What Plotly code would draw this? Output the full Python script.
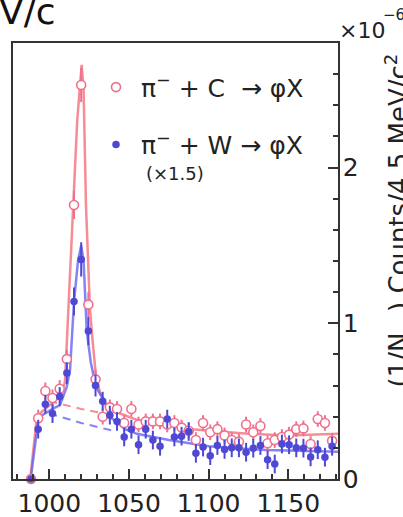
import plotly.graph_objects as go

# ---------------- data (y in units of 1e-6) ----------------
mass = [988.5, 993.0, 997.5, 1002.0, 1006.5, 1011.0, 1015.5, 1020.0, 1024.5, 1029.0,
        1033.5, 1038.0, 1042.5, 1047.0, 1051.5, 1056.0, 1060.5, 1065.0, 1069.5, 1074.0,
        1078.5, 1083.0, 1087.5, 1092.0, 1096.5, 1101.0, 1105.5, 1110.0, 1114.5, 1119.0,
        1123.5, 1128.0, 1132.5, 1137.0, 1141.5, 1146.0, 1150.5, 1155.0, 1159.5, 1164.0,
        1168.5, 1173.0, 1177.5]

carbon = [0.0, 0.39, 0.565, 0.52, 0.58, 0.77, 1.76, 2.53, 1.12, 0.64,
          0.40, 0.46, 0.45, 0.36, 0.45, 0.35, 0.37, 0.37, 0.37, 0.35,
          0.36, 0.33, 0.31, 0.25, 0.36, 0.30, 0.32, 0.28, 0.25, 0.24,
          0.35, 0.30, 0.34, 0.23, 0.25, 0.27, 0.285, 0.32, 0.325, 0.225,
          0.385, 0.36, 0.245]
carbon_err = [0.0, 0.055, 0.055, 0.055, 0.055, 0.06, 0.09, 0.11, 0.08, 0.06,
              0.05, 0.05, 0.05, 0.05, 0.05, 0.05, 0.05, 0.05, 0.05, 0.05,
              0.05, 0.05, 0.05, 0.05, 0.05, 0.05, 0.05, 0.05, 0.05, 0.05,
              0.05, 0.05, 0.05, 0.05, 0.05, 0.05, 0.05, 0.05, 0.05, 0.05,
              0.05, 0.05, 0.05]

tungsten = [0.0, 0.32, 0.48, 0.42, 0.53, 0.68, 1.14, 1.41, 0.95, 0.60,
            0.50, 0.41, 0.37, 0.27, 0.32, 0.22, 0.32, 0.25, 0.21, 0.385,
            0.27, 0.275, 0.305, 0.165, 0.205, 0.15, 0.215, 0.19, 0.20, 0.20,
            0.172, 0.198, 0.215, 0.124, 0.096, 0.225, 0.22, 0.20, 0.198, 0.142,
            0.188, 0.14, 0.21]
tungsten_err = [0.02, 0.06, 0.06, 0.06, 0.06, 0.07, 0.09, 0.11, 0.09, 0.07,
                0.06, 0.06, 0.06, 0.06, 0.06, 0.06, 0.06, 0.06, 0.06, 0.06,
                0.06, 0.06, 0.06, 0.06, 0.06, 0.06, 0.06, 0.06, 0.06, 0.06,
                0.06, 0.06, 0.06, 0.06, 0.06, 0.06, 0.06, 0.06, 0.06, 0.06,
                0.06, 0.06, 0.06]

# fit curves
fitC_x = [988.0, 990.0, 992.1, 995.0, 998.4, 1002.0, 1006.7, 1009.8, 1012.0, 1014.7,
          1017.5, 1020.3, 1021.5, 1023.0, 1025.5, 1027.5, 1029.3, 1032.0, 1036.0, 1042.0,
          1047.5, 1055.0, 1065.0, 1075.0, 1090.0, 1100.0, 1125.0, 1150.0, 1181.2]
fitC_y = [0.0, 0.20, 0.39, 0.43, 0.46, 0.49, 0.53, 0.62, 1.09, 1.76,
          2.30, 2.66, 2.50, 1.76, 1.09, 0.85, 0.66, 0.55, 0.475, 0.43,
          0.41, 0.38, 0.36, 0.35, 0.32, 0.31, 0.29, 0.28, 0.29]

fitW_x = [988.3, 990.5, 993.1, 995.5, 998.4, 1002.0, 1006.7, 1010.9, 1013.0, 1015.5,
          1018.0, 1020.0, 1021.5, 1023.5, 1026.0, 1029.3, 1034.5, 1038.0, 1047.5, 1055.0,
          1075.0, 1100.0, 1136.0, 1181.2]
fitW_y = [0.0, 0.18, 0.38, 0.41, 0.43, 0.45, 0.475, 0.59, 0.70, 1.14,
          1.40, 1.50, 1.40, 0.95, 0.75, 0.59, 0.50, 0.40, 0.32, 0.29,
          0.25, 0.21, 0.186, 0.175]

bkgC_x = [1000.0, 1020.0, 1040.0]
bkgC_y = [0.50, 0.45, 0.41]
bkgW_x = [1000.0, 1020.0, 1040.0]
bkgW_y = [0.42, 0.36, 0.31]

x_ticks = [1000, 1050, 1100, 1150]
y_ticks = [0, 1, 2]

# ---------------- styling ----------------
FONT = "DejaVu Sans, Verdana, sans-serif"
PINK_PT = "#f0708c"
PINK_LN = "rgba(244,120,130,0.85)"
BLUE_PT = "#4f48d4"
BLUE_LN = "rgba(100,100,240,0.8)"
AX = "#333333"
TXT = "#222222"

# figure-pixel helpers (plot area: x 13..338, y 43..479)
def px(x):
    return (x - 13) / 325

def py(y):
    return (479 - y) / 436

fig = go.Figure()

fig.add_trace(go.Scatter(x=fitC_x, y=fitC_y, mode="lines",
                         line=dict(color=PINK_LN, width=2.5), showlegend=False,
                         hoverinfo="skip"))
fig.add_trace(go.Scatter(x=bkgC_x, y=bkgC_y, mode="lines",
                         line=dict(color=PINK_LN, width=2, dash="8px,6px"),
                         showlegend=False, hoverinfo="skip"))
fig.add_trace(go.Scatter(x=fitW_x, y=fitW_y, mode="lines",
                         line=dict(color=BLUE_LN, width=2.5), showlegend=False,
                         hoverinfo="skip"))
fig.add_trace(go.Scatter(x=bkgW_x, y=bkgW_y, mode="lines",
                         line=dict(color=BLUE_LN, width=2, dash="8px,6px"),
                         showlegend=False, hoverinfo="skip"))

fig.add_trace(go.Scatter(
    x=mass, y=carbon, mode="markers",
    name="π<sup>−</sup> + C \u00a0→ φX",
    legendgroup="c",
    marker=dict(symbol="circle", size=9, color="white",
                line=dict(color=PINK_PT, width=1.6)),
    error_y=dict(type="data", array=carbon_err, color=PINK_PT, thickness=2, width=0),
    cliponaxis=False))
fig.add_trace(go.Scatter(
    x=mass, y=tungsten, mode="markers",
    name="π<sup>−</sup> + W → φX",
    legendgroup="w",
    marker=dict(symbol="circle", size=7.5, color=BLUE_PT),
    error_y=dict(type="data", array=tungsten_err, color=BLUE_PT, thickness=2, width=0),
    cliponaxis=False))

fig.update_layout(
    width=403, height=517,
    margin=dict(l=13, r=65, t=43, b=38, pad=0, autoexpand=False),
    paper_bgcolor="white", plot_bgcolor="white",
    font=dict(family=FONT, size=25, color=TXT),
    showlegend=True,
    legend=dict(x=0.24, y=0.951, xanchor="left", yanchor="top",
                bgcolor="rgba(0,0,0,0)", borderwidth=0,
                font=dict(family=FONT, size=25, color=TXT),
                valign="top", tracegroupgap=22, itemwidth=40,
                traceorder="grouped"),
    xaxis=dict(range=[977.2, 1181.2], tickvals=x_ticks, automargin=False,
               ticks="inside", ticklen=10, tickwidth=1.5, tickcolor=AX,
               minor=dict(dtick=10, tick0=1000, ticks="inside", ticklen=5,
                          tickwidth=1.5, tickcolor=AX),
               showline=True, linecolor=AX, linewidth=1.5, mirror=True,
               showgrid=False, zeroline=False,
               tickfont=dict(family=FONT, size=25, color=TXT),
               ticklabelstandoff=1),
    yaxis=dict(range=[0, 2.8], tickvals=y_ticks, side="right", automargin=False,
               ticks="inside", ticklen=10, tickwidth=1.5, tickcolor=AX,
               minor=dict(dtick=0.2, tick0=0, ticks="inside", ticklen=5,
                          tickwidth=1.5, tickcolor=AX),
               showline=True, linecolor=AX, linewidth=1.5, mirror=True,
               showgrid=False, zeroline=False,
               tickfont=dict(family=FONT, size=25, color=TXT),
               ticklabelstandoff=-2),
)

fig.add_annotation(text="(×1.5)", xref="paper", yref="paper",
                   x=px(144), y=py(173), xanchor="left", yanchor="middle",
                   showarrow=False, font=dict(family=FONT, size=18, color=TXT))
fig.add_annotation(text="×10", xref="paper", yref="paper",
                   x=px(337), y=py(30), xanchor="left", yanchor="middle",
                   showarrow=False, font=dict(family=FONT, size=22, color=TXT))
fig.add_annotation(text="−6", xref="paper", yref="paper",
                   x=px(381), y=py(15), xanchor="left", yanchor="middle",
                   showarrow=False, font=dict(family=FONT, size=15, color=TXT))
fig.add_annotation(text="(1/N<sub>π⁻</sub>) Counts/4.5 MeV/c<sup>2</sup>",
                   xref="paper", yref="paper", textangle=-90,
                   x=px(398.5), y=py(221),
                   xanchor="center", yanchor="middle",
                   showarrow=False, font=dict(family=FONT, size=26, color=TXT))
fig.add_annotation(text="V/c", xref="paper", yref="paper",
                   x=px(-3), y=py(12), xanchor="left", yanchor="middle",
                   showarrow=False, font=dict(family=FONT, size=36, color="#111111"))

fig.write_html("out.html", config={"displayModeBar": False},
               post_script="document.body.style.margin='0';")
